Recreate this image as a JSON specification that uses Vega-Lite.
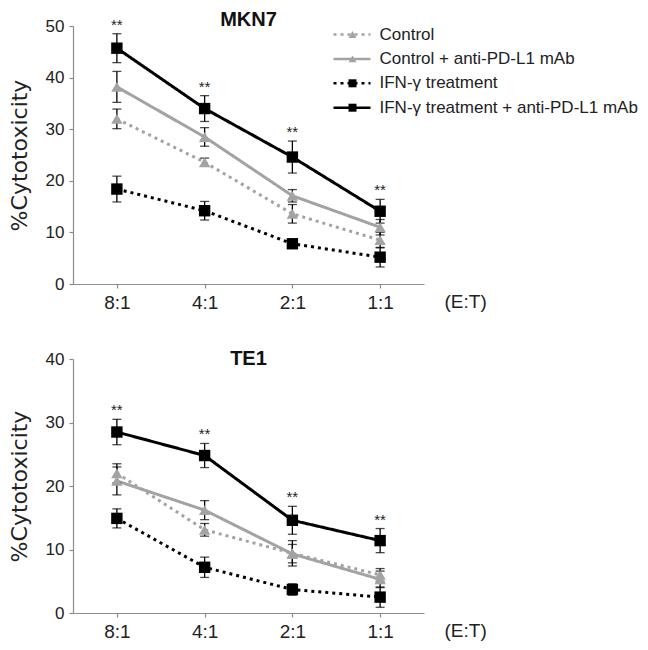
{
  "$schema": "https://vega.github.io/schema/vega-lite/v6.json",
  "padding": {"left": 8, "top": 10, "right": 5, "bottom": 5},
  "background": "white",
  "config": {
    "font": "Liberation Sans",
    "view": {"stroke": null},
    "axis": {"domainColor": "#8c8c8c", "tickColor": "#8c8c8c", "grid": false, "labelColor": "#222222", "titleColor": "#222222", "labelFont": "Liberation Sans", "titleFont": "Liberation Sans", "domainWidth": 1.2, "tickWidth": 1.2, "tickSize": 4, "titleFontWeight": "normal"},
    "title": {"font": "Liberation Sans", "fontSize": 20, "fontWeight": "bold", "color": "#111111", "baseline": "alphabetic", "frame": "group"}
  },
  "datasets": {
    "mkn7": [
      {"ratio": "8:1", "group": "Control", "mean": 32.0, "lo": 30.1, "hi": 33.9, "sig": ""},
      {"ratio": "4:1", "group": "Control", "mean": 23.6, "lo": 22.8, "hi": 24.4, "sig": ""},
      {"ratio": "2:1", "group": "Control", "mean": 13.6, "lo": 11.8, "hi": 15.4, "sig": ""},
      {"ratio": "1:1", "group": "Control", "mean": 8.5, "lo": 7.0, "hi": 10.0, "sig": ""},
      {"ratio": "8:1", "group": "Control + anti-PD-L1 mAb", "mean": 38.2, "lo": 35.2, "hi": 41.2, "sig": ""},
      {"ratio": "4:1", "group": "Control + anti-PD-L1 mAb", "mean": 28.5, "lo": 26.7, "hi": 30.3, "sig": ""},
      {"ratio": "2:1", "group": "Control + anti-PD-L1 mAb", "mean": 17.1, "lo": 15.9, "hi": 18.3, "sig": ""},
      {"ratio": "1:1", "group": "Control + anti-PD-L1 mAb", "mean": 11.0, "lo": 9.5, "hi": 12.5, "sig": ""},
      {"ratio": "8:1", "group": "IFN-γ treatment", "mean": 18.4, "lo": 15.9, "hi": 20.9, "sig": ""},
      {"ratio": "4:1", "group": "IFN-γ treatment", "mean": 14.2, "lo": 12.4, "hi": 16.0, "sig": ""},
      {"ratio": "2:1", "group": "IFN-γ treatment", "mean": 7.8, "lo": 7.0, "hi": 8.6, "sig": ""},
      {"ratio": "1:1", "group": "IFN-γ treatment", "mean": 5.2, "lo": 3.3, "hi": 7.1, "sig": ""},
      {"ratio": "8:1", "group": "IFN-γ treatment + anti-PD-L1 mAb", "mean": 45.7, "lo": 42.9, "hi": 48.5, "sig": "**"},
      {"ratio": "4:1", "group": "IFN-γ treatment + anti-PD-L1 mAb", "mean": 34.0, "lo": 31.5, "hi": 36.5, "sig": "**"},
      {"ratio": "2:1", "group": "IFN-γ treatment + anti-PD-L1 mAb", "mean": 24.6, "lo": 21.5, "hi": 27.7, "sig": "**"},
      {"ratio": "1:1", "group": "IFN-γ treatment + anti-PD-L1 mAb", "mean": 14.1, "lo": 11.8, "hi": 16.4, "sig": "**"}
    ],
    "te1": [
      {"ratio": "8:1", "group": "Control", "mean": 22.0, "lo": 20.5, "hi": 23.5, "sig": ""},
      {"ratio": "4:1", "group": "Control", "mean": 13.1, "lo": 12.1, "hi": 14.1, "sig": ""},
      {"ratio": "2:1", "group": "Control", "mean": 9.4, "lo": 7.4, "hi": 11.4, "sig": ""},
      {"ratio": "1:1", "group": "Control", "mean": 6.0, "lo": 5.0, "hi": 7.0, "sig": ""},
      {"ratio": "8:1", "group": "Control + anti-PD-L1 mAb", "mean": 20.8, "lo": 18.6, "hi": 23.0, "sig": ""},
      {"ratio": "4:1", "group": "Control + anti-PD-L1 mAb", "mean": 16.2, "lo": 14.7, "hi": 17.7, "sig": ""},
      {"ratio": "2:1", "group": "Control + anti-PD-L1 mAb", "mean": 9.3, "lo": 7.9, "hi": 10.8, "sig": ""},
      {"ratio": "1:1", "group": "Control + anti-PD-L1 mAb", "mean": 5.3, "lo": 4.0, "hi": 6.6, "sig": ""},
      {"ratio": "8:1", "group": "IFN-γ treatment", "mean": 14.9, "lo": 13.4, "hi": 16.4, "sig": ""},
      {"ratio": "4:1", "group": "IFN-γ treatment", "mean": 7.2, "lo": 5.6, "hi": 8.8, "sig": ""},
      {"ratio": "2:1", "group": "IFN-γ treatment", "mean": 3.7, "lo": 2.8, "hi": 4.6, "sig": ""},
      {"ratio": "1:1", "group": "IFN-γ treatment", "mean": 2.5, "lo": 0.9, "hi": 4.1, "sig": ""},
      {"ratio": "8:1", "group": "IFN-γ treatment + anti-PD-L1 mAb", "mean": 28.5, "lo": 26.5, "hi": 30.5, "sig": "**"},
      {"ratio": "4:1", "group": "IFN-γ treatment + anti-PD-L1 mAb", "mean": 24.8, "lo": 22.9, "hi": 26.7, "sig": "**"},
      {"ratio": "2:1", "group": "IFN-γ treatment + anti-PD-L1 mAb", "mean": 14.6, "lo": 12.4, "hi": 16.8, "sig": "**"},
      {"ratio": "1:1", "group": "IFN-γ treatment + anti-PD-L1 mAb", "mean": 11.4, "lo": 9.5, "hi": 13.3, "sig": "**"}
    ]
  },
  "spacing": 37,
  "vconcat": [
    {
      "width": 351,
      "height": 258,
      "title": {"text": "MKN7", "offset": -13},
      "data": {"name": "mkn7"},
      "encoding": {
        "x": {"field": "ratio", "type": "nominal", "sort": ["8:1", "4:1", "2:1", "1:1"], "scale": {"type": "point", "padding": 0.5},
          "axis": {"title": "(E:T)", "labelAngle": 0, "labelFontSize": 19, "labelPadding": 5, "titleFontSize": 19, "titleAlign": "left", "titleAnchor": null, "titleX": 371, "titleY": 23, "titleBaseline": "alphabetic"}}
      },
      "layer": [
        {
          "mark": {"type": "line", "strokeWidth": 3},
          "encoding": {
            "y": {"field": "mean", "type": "quantitative", "title": "%Cytotoxicity", "scale": {"domain": [0, 50], "nice": false},
              "axis": {"values": [0, 10, 20, 30, 40, 50], "labelFontSize": 17, "labelPadding": 5, "titleFont": "DejaVu Sans", "titleFontSize": 22, "titlePadding": 14}},
            "color": {"field": "group", "type": "nominal",
              "scale": {"domain": ["Control", "Control + anti-PD-L1 mAb", "IFN-γ treatment", "IFN-γ treatment + anti-PD-L1 mAb"], "range": ["#a3a3a3", "#a3a3a3", "#000000", "#000000"]},
              "legend": {"orient": "none", "legendX": 270.5, "legendY": 0, "title": null, "padding": 0, "symbolType": "M-4.625,0H4.625", "symbolSize": 64, "symbolStrokeWidth": 2.5, "rowPadding": 6.4, "labelOffset": 19, "labelFontSize": 17, "labelFont": "Liberation Sans", "labelColor": "#222222", "labelLimit": 400}
            },
            "strokeDash": {"field": "group", "type": "nominal",
              "scale": {"domain": ["Control", "Control + anti-PD-L1 mAb", "IFN-γ treatment", "IFN-γ treatment + anti-PD-L1 mAb"], "range": [[3, 4], [1, 0], [3, 4], [1, 0]]},
              "legend": {"orient": "none", "legendX": 270.5, "legendY": 0, "title": null, "padding": 0, "symbolType": "M-4.625,0H4.625", "symbolSize": 64, "symbolStrokeWidth": 2.5, "rowPadding": 6.4, "labelOffset": 19, "labelFontSize": 17, "labelFont": "Liberation Sans", "labelColor": "#222222", "labelLimit": 400}
            }
          }
        },
        {
          "mark": {"type": "errorbar", "ticks": true, "size": 9, "thickness": 1.3, "color": "#000000"},
          "encoding": {
            "y": {"field": "lo", "type": "quantitative", "title": "%Cytotoxicity"},
            "y2": {"field": "hi"},
            "detail": {"field": "group"}
          }
        },
        {
          "mark": {"type": "point", "filled": true, "size": 130, "opacity": 1},
          "encoding": {
            "y": {"field": "mean", "type": "quantitative", "title": "%Cytotoxicity"},
            "color": {"field": "group", "type": "nominal",
              "legend": {"orient": "right", "offset": -80.5, "title": null, "padding": 0, "symbolSize": 64, "rowPadding": 6.4, "labelOffset": 19, "labelFontSize": 17, "labelFont": "Liberation Sans", "labelColor": "transparent", "labelLimit": 400}},
            "shape": {"field": "group", "type": "nominal",
              "scale": {"domain": ["Control", "Control + anti-PD-L1 mAb", "IFN-γ treatment", "IFN-γ treatment + anti-PD-L1 mAb"], "range": ["triangle-up", "triangle-up", "square", "square"]},
              "legend": {"orient": "right", "offset": -80.5, "title": null, "padding": 0, "symbolSize": 64, "rowPadding": 6.4, "labelOffset": 19, "labelFontSize": 17, "labelFont": "Liberation Sans", "labelColor": "transparent", "labelLimit": 400}}
          }
        },
        {
          "transform": [{"filter": "datum.sig === '**'"}],
          "mark": {"type": "text", "fontSize": 15, "baseline": "alphabetic", "dy": -4, "color": "#222222"},
          "encoding": {
            "y": {"field": "hi", "type": "quantitative", "title": "%Cytotoxicity"},
            "text": {"field": "sig"}
          }
        }
      ],
      "resolve": {"legend": {"color": "independent", "shape": "independent", "strokeDash": "independent"}}
    },
    {
      "width": 351,
      "height": 254,
      "title": {"text": "TE1", "offset": -19},
      "data": {"name": "te1"},
      "encoding": {
        "x": {"field": "ratio", "type": "nominal", "sort": ["8:1", "4:1", "2:1", "1:1"], "scale": {"type": "point", "padding": 0.5},
          "axis": {"title": "(E:T)", "labelAngle": 0, "labelFontSize": 19, "labelPadding": 5, "titleFontSize": 19, "titleAlign": "left", "titleAnchor": null, "titleX": 371, "titleY": 23, "titleBaseline": "alphabetic"}}
      },
      "layer": [
        {
          "mark": {"type": "line", "strokeWidth": 3},
          "encoding": {
            "y": {"field": "mean", "type": "quantitative", "title": "%Cytotoxicity", "scale": {"domain": [0, 40], "nice": false},
              "axis": {"values": [0, 10, 20, 30, 40], "labelFontSize": 17, "labelPadding": 5, "titleFont": "DejaVu Sans", "titleFontSize": 22, "titlePadding": 14}},
            "color": {"field": "group", "type": "nominal",
              "scale": {"domain": ["Control", "Control + anti-PD-L1 mAb", "IFN-γ treatment", "IFN-γ treatment + anti-PD-L1 mAb"], "range": ["#a3a3a3", "#a3a3a3", "#000000", "#000000"]},
              "legend": null},
            "strokeDash": {"field": "group", "type": "nominal",
              "scale": {"domain": ["Control", "Control + anti-PD-L1 mAb", "IFN-γ treatment", "IFN-γ treatment + anti-PD-L1 mAb"], "range": [[3, 4], [1, 0], [3, 4], [1, 0]]},
              "legend": null}
          }
        },
        {
          "mark": {"type": "errorbar", "ticks": true, "size": 9, "thickness": 1.3, "color": "#000000"},
          "encoding": {
            "y": {"field": "lo", "type": "quantitative", "title": "%Cytotoxicity"},
            "y2": {"field": "hi"},
            "detail": {"field": "group"}
          }
        },
        {
          "mark": {"type": "point", "filled": true, "size": 130, "opacity": 1},
          "encoding": {
            "y": {"field": "mean", "type": "quantitative", "title": "%Cytotoxicity"},
            "color": {"field": "group", "type": "nominal", "legend": null},
            "shape": {"field": "group", "type": "nominal",
              "scale": {"domain": ["Control", "Control + anti-PD-L1 mAb", "IFN-γ treatment", "IFN-γ treatment + anti-PD-L1 mAb"], "range": ["triangle-up", "triangle-up", "square", "square"]},
              "legend": null}
          }
        },
        {
          "transform": [{"filter": "datum.sig === '**'"}],
          "mark": {"type": "text", "fontSize": 15, "baseline": "alphabetic", "dy": -4, "color": "#222222"},
          "encoding": {
            "y": {"field": "hi", "type": "quantitative", "title": "%Cytotoxicity"},
            "text": {"field": "sig"}
          }
        }
      ]
    }
  ],
  "resolve": {
    "scale": {"color": "independent", "strokeDash": "independent", "shape": "independent", "x": "independent", "y": "independent"},
    "legend": {"color": "independent", "strokeDash": "independent", "shape": "independent"}
  }
}
